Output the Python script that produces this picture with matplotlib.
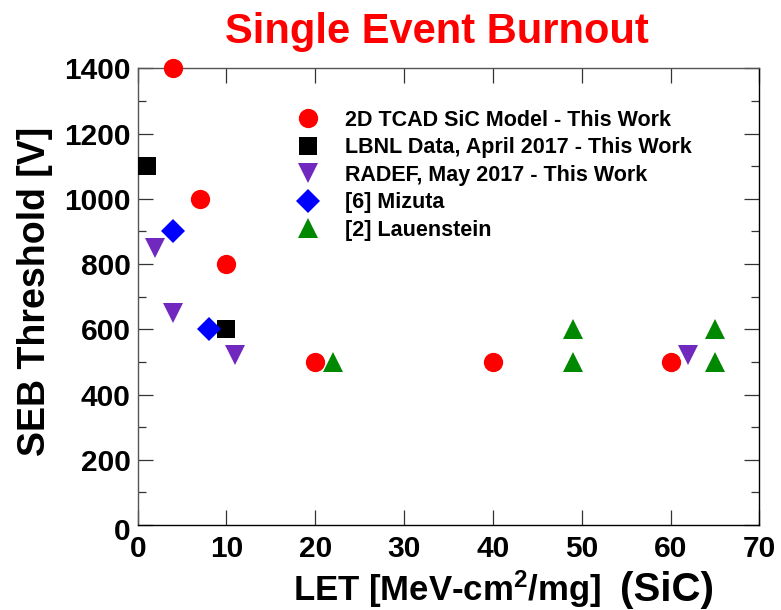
import matplotlib
matplotlib.use("Agg")
import matplotlib.pyplot as plt
from matplotlib.ticker import MultipleLocator, NullLocator

plt.rcParams['font.family'] = ['Liberation Sans', 'DejaVu Sans']
plt.rcParams['font.weight'] = 'bold'
plt.rcParams['mathtext.fontset'] = 'custom'
plt.rcParams['mathtext.rm'] = 'Liberation Sans:bold'
plt.rcParams['mathtext.bf'] = 'Liberation Sans:bold'
plt.rcParams['mathtext.it'] = 'Liberation Sans:bold'

# ---- data ----
tcad_let = [4, 7, 10, 20, 40, 60]
tcad_v = [1400, 1000, 800, 500, 500, 500]
lbnl_let = [1, 10]
lbnl_v = [1100, 600]
radef_let = [2, 4, 11, 62]
radef_v = [850, 650, 520, 520]
mizuta_let = [4, 8]
mizuta_v = [900, 600]
lauen_let = [22, 49, 49, 65, 65]
lauen_v = [500, 600, 500, 600, 500]

labels = ["2D TCAD SiC Model - This Work",
          "LBNL Data, April 2017 - This Work",
          "RADEF, May 2017 - This Work",
          "[6] Mizuta",
          "[2] Lauenstein"]

title = "Single Event Burnout"
xlabel_main = r"LET [MeV-cm$^{2}$/mg]"
xlabel_extra = "(SiC)"
ylabel = "SEB Threshold [V]"

W, H = 781, 610
fig = plt.figure(figsize=(W / 100, H / 100), dpi=100)
ax = fig.add_axes([137.7 / W, 1 - 525 / H, (759.3 - 137.7) / W, (525 - 68.3) / H])

common = dict(linestyle='none', markeredgewidth=0, clip_on=False, zorder=3)
ax.plot(tcad_let, tcad_v, marker='o', color='#ff0000', markersize=13.9, label=labels[0], **common)
ax.plot(lbnl_let, lbnl_v, marker='s', color='#000000', markersize=12.7, label=labels[1], **common)
ax.plot(radef_let, radef_v, marker='v', color='#7028be', markersize=13.7, label=labels[2], **common)
ax.plot(mizuta_let, mizuta_v, marker='D', color='#0000ff', markersize=12.3, label=labels[3], **common)
ax.plot(lauen_let, lauen_v, marker='^', color='#008800', markersize=13.7, label=labels[4], **common)

ax.set_xlim(0, 70)
ax.set_ylim(0, 1400)
ax.xaxis.set_major_locator(MultipleLocator(10))
ax.xaxis.set_minor_locator(NullLocator())
ax.yaxis.set_minor_locator(MultipleLocator(100))

ax.tick_params(axis='both', which='major', direction='in', length=10.5, width=0.9,
               top=True, right=True, labelsize=21.5, pad=5, color='#333333')
ax.tick_params(axis='y', which='minor', direction='in', length=5.8, width=0.9,
               left=True, right=True, color='#333333')
ax.tick_params(axis='x', which='major', pad=7)

for side in ['left', 'top']:
    ax.spines[side].set_color('#555555')
for side in ['right', 'bottom']:
    ax.spines[side].set_color('#000000')
for s in ax.spines.values():
    s.set_linewidth(1.0)

# y "0" label offset downward like the reference
ax.set_yticks([0, 200, 400, 600, 800, 1000, 1200, 1400])
ax.set_yticklabels(['', '200', '400', '600', '800', '1000', '1200', '1400'])
ax.annotate('0', xy=(0, 0), xycoords=('axes fraction', 'data'), xytext=(-5, -5),
            textcoords='offset points', ha='right', va='center', fontsize=21.5, fontweight='bold')

for lab in ax.get_xticklabels() + ax.get_yticklabels():
    lab.set_fontweight('bold')

leg = ax.legend(loc='upper left', bbox_to_anchor=(297.3 / W, 1 - 110 / H),
                bbox_transform=fig.transFigure, frameon=False, fontsize=15.5,
                handlelength=1.0, handletextpad=1.22, labelspacing=0.3,
                borderpad=0, borderaxespad=0, numpoints=1)
for t in leg.get_texts():
    t.set_fontweight('bold')

fig.text(437 / W, 1 - 43 / H, title, color='#ff0000', fontsize=30, fontweight='bold',
         ha='center', va='baseline')
fig.text(35 / W, 1 - 291 / H, ylabel, rotation=90, fontsize=27, fontweight='bold',
         ha='center', va='center')
fig.text(293 / W, 1 - 601 / H, xlabel_main, fontsize=25, fontweight='bold',
         ha='left', va='baseline')
fig.text(620 / W, 1 - 601 / H, xlabel_extra, fontsize=29, fontweight='bold',
         ha='left', va='baseline')

fig.savefig('out.png', dpi=100)
